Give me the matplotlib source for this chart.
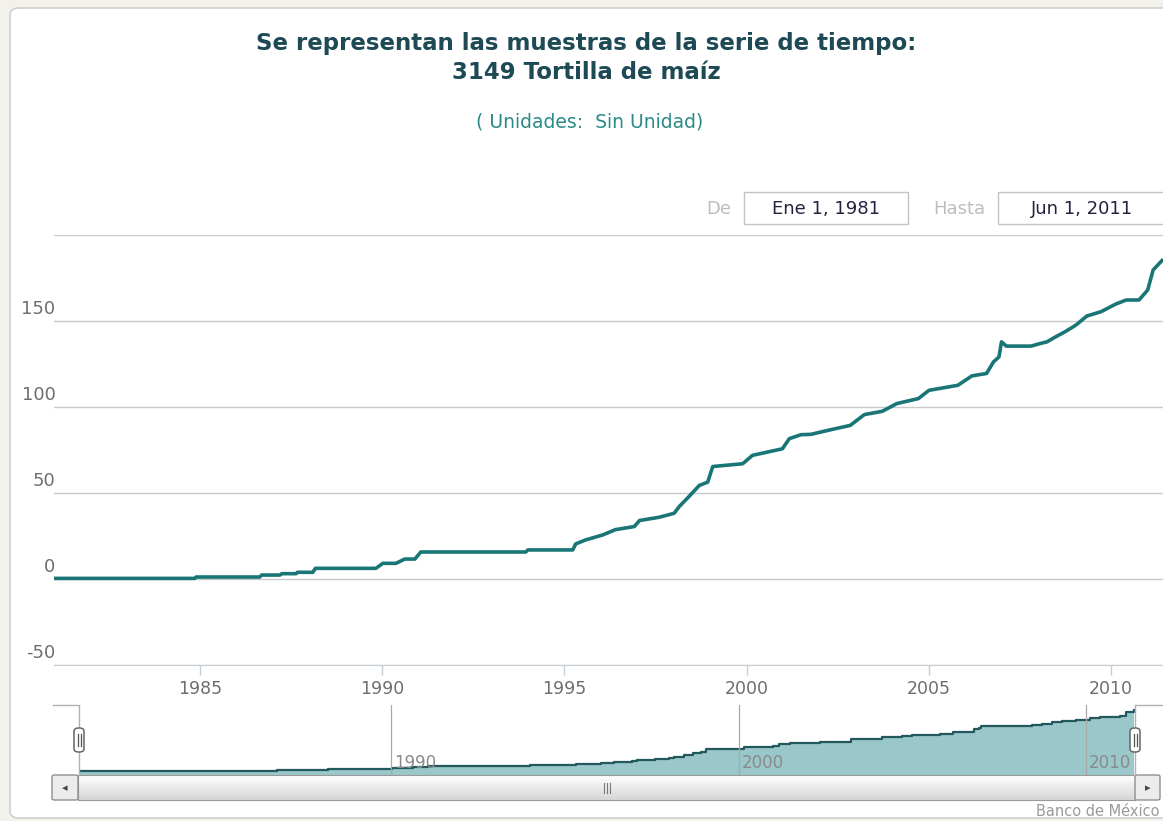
import matplotlib
matplotlib.use('Agg')
import matplotlib.pyplot as plt
from matplotlib.patches import FancyBboxPatch, Rectangle
from matplotlib.transforms import ScaledTranslation
import numpy as np

plt.rcParams['font.family'] = ['DejaVu Sans']
plt.rcParams['axes.unicode_minus'] = False

# Indice de precios: 3149 Tortilla de maiz (fecha decimal, valor)
years = [1981.00, 1984.86, 1984.90, 1986.64, 1986.70, 1987.20, 1987.25, 1987.64,
         1987.68, 1988.10, 1988.17, 1989.83, 1990.02, 1990.38, 1990.62, 1990.90,
         1991.06, 1993.94, 1994.00, 1995.23, 1995.31, 1995.58, 1996.05, 1996.40,
         1996.92, 1997.06, 1997.60, 1998.01, 1998.15, 1998.42, 1998.70, 1998.93,
         1999.07, 1999.89, 2000.16, 2000.98, 2001.17, 2001.49, 2001.76, 2002.35,
         2002.84, 2003.23, 2003.72, 2004.12, 2004.71, 2005.00, 2005.79, 2006.18,
         2006.58, 2006.77, 2006.92, 2006.99, 2007.12, 2007.80, 2008.05, 2008.24,
         2008.44, 2008.73, 2009.03, 2009.33, 2009.72, 2010.12, 2010.41, 2010.76,
         2011.00, 2011.15, 2011.39]
values = [0.35, 0.35, 1.15, 1.15, 2.3, 2.3, 3.1, 3.1,
          3.9, 3.9, 6.2, 6.2, 9.1, 9.1, 11.6, 11.6,
          15.7, 15.7, 16.9, 16.9, 20.4, 22.7, 25.6, 28.7,
          30.5, 34.0, 35.9, 38.2, 42.1, 48.0, 54.4, 56.3,
          65.4, 67.0, 71.9, 75.7, 81.6, 83.9, 84.1, 87.0,
          89.3, 95.6, 97.5, 102.0, 104.9, 109.7, 112.6, 118.1,
          119.5, 126.2, 129.1, 137.9, 135.4, 135.4, 136.9, 137.9,
          140.4, 143.7, 147.6, 152.9, 155.4, 159.8, 162.2, 162.2,
          168.0, 179.7, 185.1]

y_ticks = [-50, 0, 50, 100, 150, 200]
y_labels = ['-50', '0', '50', '100', '150', '']
x_ticks = [1985, 1990, 1995, 2000, 2005, 2010]
nav_ticks = [1990, 2000, 2010]

title = 'Se representan las muestras de la serie de tiempo:\n3149 Tortilla de maíz'
subtitle = '( Unidades:  Sin Unidad)'
date_from = 'Ene 1, 1981'
date_to = 'Jun 1, 2011'

W, H = 1163, 821
line_c = '#1a7676'
grid_c = '#c9c9c9'


def fx(x):
    return x / W


def fy(y):
    return 1 - y / H


fig = plt.figure(figsize=(W / 100, H / 100), dpi=100)
fig.patch.set_facecolor('#f3f2ea')

# panel blanco
panel = FancyBboxPatch((fx(10), fy(818)), fx(1200) - fx(10), fy(8) - fy(818),
                       boxstyle='round,pad=0,rounding_size=0.008',
                       transform=fig.transFigure, facecolor='white',
                       edgecolor='#cfcfcf', linewidth=1.2, zorder=-5)
fig.patches.append(panel)

fig.text(fx(586), fy(58), title, ha='center', va='center', fontsize=16.5,
         fontweight='bold', color='#1d4a54', linespacing=1.3)
fig.text(fx(590), fy(122), subtitle, ha='center', va='center', fontsize=13.5,
         color='#2a8a8a')

# selector de fechas
fig.text(fx(719), fy(209), 'De', ha='center', va='center', fontsize=13, color='#bdbdbd')
fig.text(fx(959), fy(209), 'Hasta', ha='center', va='center', fontsize=13, color='#bdbdbd')
for x0, x1, txt in [(744, 908, date_from), (998, 1175, date_to)]:
    fig.patches.append(Rectangle((fx(x0), fy(224)), fx(x1) - fx(x0), fy(192) - fy(224),
                                 transform=fig.transFigure, facecolor='white',
                                 edgecolor='#c4c4c4', linewidth=1.0))
    fig.text(fx((x0 + min(x1, 1166)) / 2), fy(209), txt, ha='center', va='center',
             fontsize=13, color='#22223f')

# grafica principal
ax = fig.add_axes([fx(54), fy(665), fx(1163) - fx(54), fy(235) - fy(665)])
ax.plot(years, values, color=line_c, linewidth=2.6, solid_joinstyle='round', zorder=3)
ax.set_xlim(1981.0, 2011.42)
ax.set_ylim(-50, 200)
ax.set_yticks(y_ticks)
ax.set_yticklabels(y_labels)
ax.set_xticks(x_ticks)
ax.grid(axis='y', color=grid_c, linewidth=1.0)
for s in ['top', 'right', 'left']:
    ax.spines[s].set_visible(False)
ax.spines['bottom'].set_color('#c6cfd6')
ax.tick_params(axis='y', length=0, pad=-1, labelsize=13, labelcolor='#6e6e6e')
ax.tick_params(axis='x', length=7, width=1, color='#c6cfd6', pad=4,
               labelsize=12.5, labelcolor='#6e6e6e')
for lbl in ax.get_yticklabels():
    lbl.set_verticalalignment('bottom')
    lbl.set_transform(lbl.get_transform() + ScaledTranslation(0, 2 / 72, fig.dpi_scale_trans))

# navegador
nav = fig.add_axes([fx(79), fy(775), fx(1135) - fx(79), fy(705) - fy(775)])
nav.fill_between(years, values, -12, step='post', color='#9ac7c9', linewidth=0)
nav.plot(years, values, drawstyle='steps-post', color='#23585e', linewidth=1.6)
nav.set_xlim(1981.0, 2011.42)
nav.set_ylim(-12, 200)
nav.set_xticks(nav_ticks)
nav.set_yticks([])
nav.grid(axis='x', color='#a9a9a9', linewidth=0.9)
nav.set_axisbelow(False)
for s in nav.spines.values():
    s.set_visible(False)
nav.tick_params(axis='x', length=0, pad=-15, labelsize=12, labelcolor='#8a8a8a')
for lbl in nav.get_xticklabels():
    lbl.set_horizontalalignment('left')
    lbl.set_transform(lbl.get_transform() + ScaledTranslation(2 / 72, 0, fig.dpi_scale_trans))

# contorno del navegador
fig.lines.append(plt.Line2D([fx(53), fx(79), fx(79)], [fy(705), fy(705), fy(775)],
                            transform=fig.transFigure, color='#b0b0b0', linewidth=1))
fig.lines.append(plt.Line2D([fx(1168), fx(1135), fx(1135)], [fy(705), fy(705), fy(775)],
                            transform=fig.transFigure, color='#b0b0b0', linewidth=1))

# barra de desplazamiento
bar = fig.add_axes([fx(78), fy(800), fx(1135) - fx(78), fy(775) - fy(800)])
grad = np.linspace(1.0, 0.84, 30).reshape(-1, 1)
bar.imshow(grad, aspect='auto', cmap='gray', vmin=0, vmax=1, extent=[0, 1, 0, 1])
bar.set_xlim(0, 1)
bar.set_ylim(0, 1)
bar.set_xticks([])
bar.set_yticks([])
for s in bar.spines.values():
    s.set_color('#9a9a9a')
for dx in [-3, 0, 3]:
    bar.plot([0.5 + dx / 1057, 0.5 + dx / 1057], [0.3, 0.7], color='#777777', linewidth=0.8)

for x0, x1, arrow in [(52, 78, '◂'), (1135, 1160, '▸')]:
    fig.patches.append(FancyBboxPatch((fx(x0), fy(800)), fx(x1) - fx(x0), fy(775) - fy(800),
                                      boxstyle='round,pad=0,rounding_size=0.002',
                                      transform=fig.transFigure, facecolor='#ececec',
                                      edgecolor='#8f8f8f', linewidth=1))
    fig.text(fx((x0 + x1) / 2), fy(788), arrow, ha='center', va='center',
             fontsize=8, color='#444444')

# asas del navegador
for xc in [79, 1135]:
    fig.patches.append(FancyBboxPatch((fx(xc - 5), fy(752)), fx(10), fy(728) - fy(752),
                                      boxstyle='round,pad=0,rounding_size=0.004',
                                      transform=fig.transFigure, facecolor='white',
                                      edgecolor='#666666', linewidth=1.1, zorder=5))
    for dx in [-1.5, 1.5]:
        fig.lines.append(plt.Line2D([fx(xc + dx), fx(xc + dx)], [fy(746), fy(734)],
                                    transform=fig.transFigure, color='#555555',
                                    linewidth=0.9, zorder=6))

fig.text(fx(1160), fy(811), 'Banco de México', ha='right', va='center',
         fontsize=10.5, color='#9a9a9a')

fig.savefig('out.png', dpi=100, facecolor=fig.get_facecolor())
